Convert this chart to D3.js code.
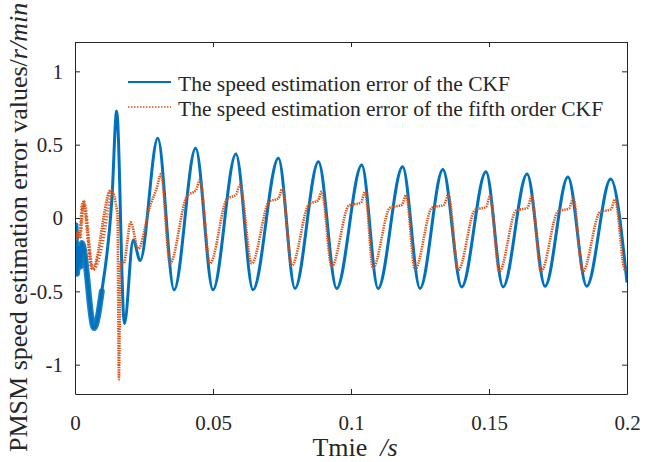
<!DOCTYPE html>
<html>
<head>
<meta charset="utf-8">
<script src="https://cdn.jsdelivr.net/npm/d3@7"></script>
<style>
  body { margin: 0; background: #fff; }
  text { font-family: "Liberation Serif", "Times New Roman", serif; fill: #262626; }
</style>
</head>
<body>
<div id="chart"></div>
<script>
const width = 646;
const height = 462;
const margin = { top: 42, right: 19, bottom: 68, left: 75 };

// tick values
const xTicks = [0, 0.05, 0.1, 0.15, 0.2];
const yTicks = [-1, -0.5, 0, 0.5, 1];

// CKF speed error (time s, value r/min)
const ckfTime = [0.0002, 0.0007, 0.0014, 0.0020, 0.0025, 0.0069, 0.0097, 0.0134, 0.0151, 0.0179, 0.0211, 0.0236,
  0.0300, 0.0359, 0.0437, 0.0500, 0.0583, 0.0645, 0.0737, 0.0797, 0.0882, 0.0948, 0.1039, 0.1098,
  0.1187, 0.1250, 0.1333, 0.1401, 0.1489, 0.1551, 0.1638, 0.1703, 0.1786, 0.1854, 0.1941, 0.2000];
const ckfError = [-0.05, -0.38, -0.2, -0.33, -0.17, -0.75, -0.5, 0.14, 0.73, -0.72, -0.15, -0.29,
  0.543, -0.49, 0.475, -0.49, 0.436, -0.49, 0.407, -0.48, 0.384, -0.48, 0.361, -0.48,
  0.35, -0.48, 0.33, -0.47, 0.316, -0.47, 0.30, -0.465, 0.28, -0.465, 0.266, -0.44];

// fifth order CKF speed error
const ckf5Time = [0.0002, 0.0011, 0.0016, 0.0030, 0.0064, 0.0129, 0.0154, 0.0159, 0.0165, 0.0176, 0.0202, 0.0229,
  0.02717, 0.02971, 0.03116, 0.03442,
  0.04058, 0.04384, 0.04529, 0.04891,
  0.05507, 0.05833, 0.05978, 0.06402,
  0.07029, 0.07373, 0.07511, 0.07851,
  0.08478, 0.08804, 0.08938, 0.09301,
  0.09928, 0.10362, 0.10507, 0.10797,
  0.11413, 0.11848, 0.11993, 0.12319,
  0.12935, 0.13370, 0.13525, 0.13888,
  0.14493, 0.14891, 0.15036, 0.15373,
  0.15978, 0.16395, 0.16547, 0.16884,
  0.17500, 0.17899, 0.18054, 0.18395,
  0.19022, 0.19420, 0.19565, 0.19928, 0.2000];
const ckf5Error = [-0.15, -0.1, -0.14, 0.11, -0.35, 0.19, 0.03, -1.1, -0.3, -0.31, -0.03, -0.21,
  0.08, 0.21, 0.30, -0.31,
  0.15, 0.19, 0.26, -0.31,
  0.13, 0.16, 0.225, -0.31,
  0.11, 0.135, 0.20, -0.325,
  0.095, 0.12, 0.18, -0.33,
  0.085, 0.105, 0.18, -0.34,
  0.07, 0.09, 0.157, -0.35,
  0.07, 0.09, 0.16, -0.355,
  0.055, 0.075, 0.15, -0.366,
  0.05, 0.07, 0.145, -0.366,
  0.045, 0.065, 0.134, -0.366,
  0.04, 0.06, 0.127, -0.355, -0.34];

// start-up part where the estimates are noisy (drawn as a wider band)
const noisyUntil = [0.0097, 0.0129];

const legendLabels = ["The speed estimation error of the CKF", "The speed estimation error of the fifth order CKF"];
const colors = ["#0072BD", "#D95319"];

const svg = d3.select("#chart").append("svg")
    .attr("width", width)
    .attr("height", height);

const x = d3.scaleLinear().domain([0, 0.2]).range([margin.left, width - margin.right]);
const y = d3.scaleLinear().domain([-1.2, 1.2]).range([height - margin.bottom, margin.top]);

svg.append("clipPath").attr("id", "plot-clip")
  .append("rect")
    .attr("x", margin.left).attr("y", margin.top)
    .attr("width", width - margin.left - margin.right)
    .attr("height", height - margin.top - margin.bottom);

const line = d3.line().x(d => x(d[0])).y(d => y(d[1])).curve(d3.curveMonotoneX);

const ckfData = ckfTime.map((t, i) => [t, ckfError[i]]);
const ckf5Data = ckf5Time.map((t, i) => [t, ckf5Error[i]]);

const plot = svg.append("g").attr("clip-path", "url(#plot-clip)");

// noisy start-up bands
plot.append("path").datum(ckfData.filter(d => d[0] <= noisyUntil[0]))
    .attr("fill", "none").attr("stroke", colors[0]).attr("stroke-width", 6)
    .attr("stroke-opacity", 0.9)
    .attr("stroke-linejoin", "round").attr("stroke-linecap", "round")
    .attr("d", line);

plot.append("path").datum(ckfData)
    .attr("fill", "none").attr("stroke", colors[0]).attr("stroke-width", 3)
    .attr("stroke-linejoin", "round")
    .attr("d", line);

plot.append("path").datum(ckf5Data.filter(d => d[0] <= noisyUntil[1]))
    .attr("fill", "none").attr("stroke", colors[1]).attr("stroke-width", 4)
    .attr("stroke-dasharray", "1.2,1.8")
    .attr("d", line);

plot.append("path").datum(ckf5Data)
    .attr("fill", "none").attr("stroke", colors[1]).attr("stroke-width", 2.6)
    .attr("stroke-dasharray", "1.4,1")
    .attr("d", line);

// axes: ticks point inward on all four sides
const fmt = d => String(d);
const axisFont = "21px";

const gX = svg.append("g").attr("transform", `translate(0,${height - margin.bottom})`)
    .call(d3.axisBottom(x).tickValues(xTicks).tickFormat(fmt).tickSizeInner(-5).tickSizeOuter(0).tickPadding(21));
const gXTop = svg.append("g").attr("transform", `translate(0,${margin.top})`)
    .call(d3.axisTop(x).tickValues(xTicks).tickFormat("").tickSizeInner(-5).tickSizeOuter(0));
const gY = svg.append("g").attr("transform", `translate(${margin.left},0)`)
    .call(d3.axisLeft(y).tickValues(yTicks).tickFormat(fmt).tickSizeInner(-5).tickSizeOuter(0).tickPadding(12));
const gYRight = svg.append("g").attr("transform", `translate(${width - margin.right},0)`)
    .call(d3.axisRight(y).tickValues(yTicks).tickFormat("").tickSizeInner(-5).tickSizeOuter(0));

[gX, gXTop, gY, gYRight].forEach(g => {
  g.attr("font-family", null);
  g.select(".domain").attr("stroke", "#262626").attr("stroke-width", 1);
  g.selectAll(".tick line").attr("stroke", "#262626");
  g.selectAll("text").style("font-size", axisFont).attr("fill", "#262626");
});

// axis titles
const xTitle = svg.append("text")
    .attr("x", 355).attr("y", 456)
    .attr("text-anchor", "middle")
    .style("font-size", "26px");
xTitle.append("tspan").text("Tmie\u00a0\u00a0");
xTitle.append("tspan").style("font-style", "italic").text("/s");

const yTitle = svg.append("text")
    .attr("transform", "translate(27,452) rotate(-90)")
    .attr("text-anchor", "start")
    .style("font-size", "26px");
yTitle.append("tspan").text("PMSM speed estimation error values/");
yTitle.append("tspan").style("font-style", "italic").text("r/min");

// legend (no box)
const legend = svg.append("g");
legendLabels.forEach((label, i) => {
  const ly = 82 + i * 25;
  legend.append("line")
      .attr("x1", 128).attr("x2", 171).attr("y1", ly).attr("y2", ly)
      .attr("stroke", colors[i])
      .attr("stroke-width", i === 0 ? 2 : 1.6)
      .attr("stroke-dasharray", i === 0 ? null : "1.5,1.5");
  legend.append("text")
      .attr("x", 178).attr("y", ly + 8.5)
      .style("font-size", "21.5px")
      .text(label);
});
</script>
</body>
</html>
